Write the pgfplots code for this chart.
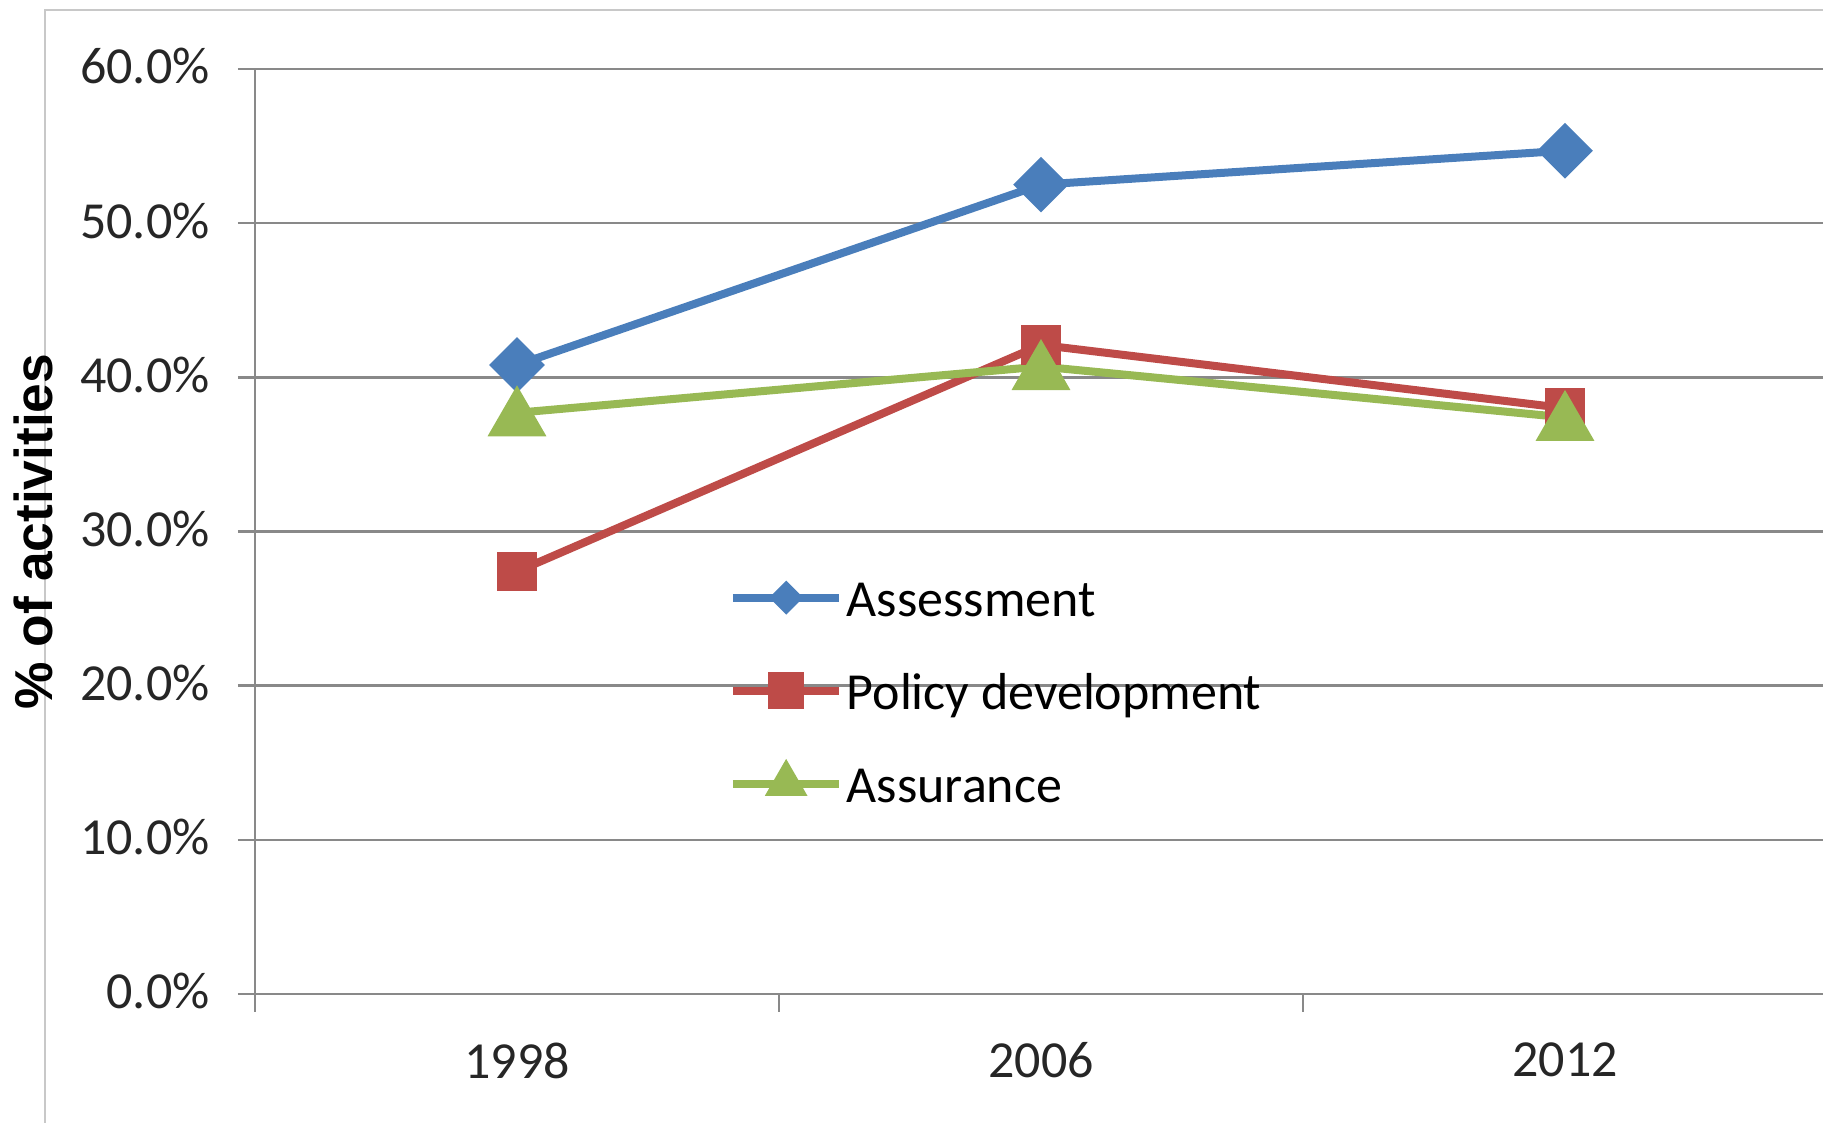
\documentclass[border=0pt]{standalone}
\usepackage{pgfplots}
\pgfplotsset{compat=1.18}
\usepackage{fontspec}
\setmainfont{Carlito}
\newfontfamily\arialfont{Liberation Sans}
\definecolor{sblue}{HTML}{4A7EBB}
\definecolor{sred}{HTML}{BE4B48}
\definecolor{sgreen}{HTML}{98B954}
\definecolor{gridc}{HTML}{898989}
\definecolor{framec}{HTML}{C8C8C8}
\newcommand{\tfont}{\fontsize{15.6}{18.7}\selectfont}
\begin{document}
\begin{tikzpicture}
\draw[framec, line width=0.5pt] (-63pt,-45pt) -- (-63pt,295.2pt) -- (480pt,295.2pt);
\begin{axis}[
  scale only axis, width=471.6pt, height=277.5pt,
  xmin=-0.5, xmax=2.5, ymin=0, ymax=60,
  axis lines=left, axis line style={-, gridc, line width=0.75pt},
  clip=false,
  tick align=outside,
  xtick={0,1,2}, xticklabels={1998,2006,2012},
  major x tick style={draw=none},
  minor xtick={-0.5,0.5,1.5,2.5},
  minor tick length=5.4pt,
  major tick length=5.1pt,
  every tick/.style={gridc, line width=0.75pt},
  ytick={0,10,20,30,40,50,60},
  yticklabels={0.0\%,10.0\%,20.0\%,30.0\%,40.0\%,50.0\%,60.0\%},
  ymajorgrids, grid style={gridc, line width=0.75pt},
  tick label style={font=\tfont, text=black!85},
  xticklabel style={yshift=-6pt},
  yticklabel style={xshift=-5pt, yshift=0.8pt},
  ylabel={\arialfont\bfseries\fontsize{16}{18}\selectfont \% of activities},
  ylabel style={at={(axis description cs:-0.141,0.5)}, anchor=center},
  legend style={draw=none, fill=none, at={(axis description cs:0.301,0.328)}, anchor=west,
    inner sep=0pt, row sep=11.3pt, font=\tfont, nodes={inner sep=1pt}},
  legend cell align=left,
  legend image code/.code={\draw[mark repeat=2,mark phase=2,#1] plot coordinates {(0pt,0pt) (16pt,0pt) (32pt,0pt)};},
]
\addlegendimage{sblue, line width=2.4pt, mark=square*, mark options={rotate=45, mark size=2.4pt, solid}}
\addlegendimage{sred, line width=2.4pt, mark=square*, mark options={mark size=4.3pt, solid}}
\addlegendimage{sgreen, line width=2.4pt, mark=triangle*, mark options={mark size=5pt, solid}}
\legend{\strut Assessment,\strut Policy development,\strut Assurance}
\addplot[forget plot, sblue, line width=2.4pt, mark=square*, mark options={rotate=45, mark size=4.7pt}]
  coordinates {(0,40.8) (1,52.5) (2,54.7)};
\addplot[forget plot, sred, line width=2.4pt, mark=square*, mark options={mark size=4.7pt}]
  coordinates {(0,27.4) (1,42.1) (2,38.0)};
\addplot[forget plot, sgreen, line width=2.4pt, mark=triangle*, mark options={mark size=7.8pt, yshift=-1.95pt}]
  coordinates {(0,37.7) (1,40.7) (2,37.4)};
\end{axis}
\pgfresetboundingbox
\path[use as bounding box] (-76.5pt,-38.7pt) rectangle (470.4pt,298.2pt);
\end{tikzpicture}
\end{document}
